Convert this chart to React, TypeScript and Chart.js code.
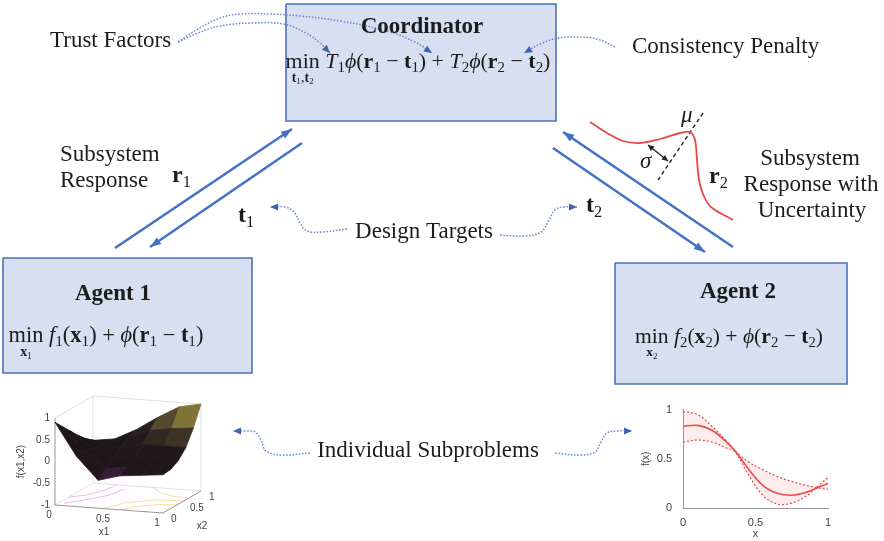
import React, { useEffect, useRef } from "react";
import { Chart, registerables } from "chart.js";

Chart.register(...registerables);

const W = 884;
const H = 541;
const SERIF = '"Liberation Serif", "DejaVu Serif", serif';
const SANS = '"Liberation Sans", "DejaVu Sans", sans-serif';

// ---------------- data ----------------
const boxTitles = ["Coordinator", "Agent 1", "Agent 2"];
const noteTexts = [
  "Trust Factors",
  "Consistency Penalty",
  "Subsystem",
  "Response",
  "Design Targets",
  "Subsystem",
  "Response with",
  "Uncertainty",
  "Individual Subproblems",
];

// boxes [left, top, right, bottom]
const coordinatorBox = [286, 4, 556, 121];
const agent1Box = [3, 258, 252, 373];
const agent2Box = [615, 263, 847, 384];

// solid exchange arrows [from, to]
const r1Arrow = [[115, 248], [292, 129]];
const t1Arrow = [[302, 143], [150, 247]];
const r2Arrow = [[733, 247], [563, 132]];
const t2Arrow = [[553, 148], [705, 252]];

// dotted annotation curves (end = arrow tip)
const trustCurve1 = [[178, 42], [198, 33], [220, 26], [253, 23], [283, 24], [306, 33], [320, 43], [330, 53]];
const trustCurve2 = [[178, 42], [198, 29], [220, 18], [240, 14], [270, 14], [300, 16], [340, 21], [387, 31], [415, 42], [432, 53]];
const penaltyCurve = [[615, 47], [597, 39], [577, 37], [558, 38], [540, 44], [524, 53]];
const targetsLeft = [[347, 229], [322, 232], [307, 231], [300, 223], [294, 212], [285, 207], [270, 207]];
const targetsRight = [[500, 235], [525, 236], [541, 232], [549, 220], [555, 210], [563, 207], [577, 207]];
const subLeft = [[310, 453], [282, 455], [266, 451], [261, 440], [255, 432], [246, 431], [233, 431]];
const subRight = [[555, 453], [580, 455], [595, 452], [601, 442], [607, 433], [617, 431], [632, 431]];

// uncertain response sketch
const r2Curve = [[590, 122], [607, 133], [623, 141], [640, 143], [660, 139], [680, 133], [690, 132], [695, 140], [697, 160], [699, 180], [703, 194], [711, 207], [733, 220]];
const muLine = [[703, 113], [658, 180]];
const sigmaArrow = [[648, 145], [668, 161]];

// 3D surface inset f(x1,x2)
const surfX1 = [0, 0.2, 0.4, 0.6, 0.8, 1];
const surfX2 = [0, 0.2, 0.4, 0.6, 0.8, 1];
const surfZ = [
  [0.9, 0.7, 0.5, 0.3, 0.12, -0.02],
  [0.15, 0.18, 0.15, 0.1, 0.06, 0.05],
  [-0.36, -0.2, -0.05, 0.1, 0.22, 0.3],
  [-0.22, -0.12, 0.0, 0.2, 0.42, 0.62],
  [-0.17, -0.1, 0.0, 0.2, 0.5, 0.9],
  [-0.12, -0.1, 0.0, 0.2, 0.55, 1.0],
];
const surfZTicks = [1, 0.5, 0, -0.5, -1];
const surfXTicks = [0, 0.5, 1];
const contoursPink = [
  [[0.05, 0.1], [0.18, 0.3], [0.3, 0.55], [0.35, 0.85]],
  [[0.0, 0.35], [0.12, 0.5], [0.2, 0.75], [0.22, 1.0]],
];
const contoursYellow = [
  [[0.45, 0.0], [0.55, 0.3], [0.75, 0.5], [1.0, 0.55]],
  [[0.62, 0.0], [0.7, 0.2], [0.85, 0.33], [1.0, 0.37]],
  [[0.55, 1.0], [0.7, 0.8], [0.85, 0.7], [1.0, 0.68]],
];

// 1D GP inset f(x)
const fxX = [0, 0.1, 0.2, 0.3, 0.36, 0.45, 0.55, 0.65, 0.75, 0.85, 0.95, 1];
const fxMean = [0.83, 0.84, 0.79, 0.67, 0.58, 0.4, 0.23, 0.15, 0.13, 0.16, 0.22, 0.25];
const fxBandA = [0.98, 0.95, 0.83, 0.68, 0.58, 0.47, 0.39, 0.32, 0.27, 0.23, 0.2, 0.19];
const fxBandB = [0.67, 0.69, 0.67, 0.61, 0.57, 0.34, 0.13, 0.04, 0.05, 0.12, 0.25, 0.31];
const fxTicks = [0, 0.5, 1];

// ---------------- formulas ----------------
type Seg = { t: string; st?: string; sub?: boolean; under?: Seg[] };
const B = "bold";
const I = "italic";
const coordFormula: Seg[] = [
  { t: "min", under: [{ t: "t", st: B }, { t: "1", sub: true }, { t: "," }, { t: "t", st: B }, { t: "2", sub: true }] },
  { t: " " }, { t: "T", st: I }, { t: "1", sub: true }, { t: "ϕ", st: I }, { t: "(" }, { t: "r", st: B }, { t: "1", sub: true },
  { t: " − " }, { t: "t", st: B }, { t: "1", sub: true }, { t: ")" }, { t: " + " },
  { t: "T", st: I }, { t: "2", sub: true }, { t: "ϕ", st: I }, { t: "(" }, { t: "r", st: B }, { t: "2", sub: true },
  { t: " − " }, { t: "t", st: B }, { t: "2", sub: true }, { t: ")" },
];
const agentFormula = (k: string): Seg[] => [
  { t: "min", under: [{ t: "x", st: B }, { t: k, sub: true }] },
  { t: " " }, { t: "f", st: I }, { t: k, sub: true }, { t: "(" }, { t: "x", st: B }, { t: k, sub: true }, { t: ")" },
  { t: " + " }, { t: "ϕ", st: I }, { t: "(" }, { t: "r", st: B }, { t: k, sub: true }, { t: " − " },
  { t: "t", st: B }, { t: k, sub: true }, { t: ")" },
];

function segFont(s: Seg, size: number) {
  const sz = s.sub ? size * 0.68 : size;
  return `${s.st || ""} ${sz}px ${SERIF}`.trim();
}
function richWidth(ctx: CanvasRenderingContext2D, segs: Seg[], size: number) {
  let w = 0;
  for (const s of segs) {
    ctx.font = segFont(s, size);
    w += ctx.measureText(s.t).width;
  }
  return w;
}
function drawRich(ctx: CanvasRenderingContext2D, segs: Seg[], x: number, base: number, size: number, align: string) {
  const w = richWidth(ctx, segs, size);
  let cx = align === "center" ? x - w / 2 : x;
  ctx.textAlign = "left";
  ctx.textBaseline = "alphabetic";
  for (const s of segs) {
    ctx.font = segFont(s, size);
    const sw = ctx.measureText(s.t).width;
    ctx.fillText(s.t, cx, s.sub ? base + size * 0.2 : base);
    if (s.under) drawRich(ctx, s.under, cx + sw / 2, base + size * 0.62, size * 0.62, "center");
    cx += sw;
  }
}
function drawRichFit(ctx: CanvasRenderingContext2D, segs: Seg[], cx: number, base: number, targetW: number) {
  const w = richWidth(ctx, segs, 22);
  drawRich(ctx, segs, cx, base, (22 * targetW) / w, "center");
}

// ---------------- colours ----------------
const INK = "#1c1c1c";
const BOX_FILL = "#D7DFF0";
const BOX_EDGE = "#4A70BE";
const ARROW = "#4472C4";
const DOT = "#6F8DCB";
const DOT_HEAD = "#3E63B2";
const RED = "#E8484A";

// ---------------- helpers ----------------
const toPts = (arr: number[][]) => arr.map(([x, y]) => ({ x, y }));
const rectPts = (b: number[]) => [[b[0], b[1]], [b[2], b[1]], [b[2], b[3]], [b[0], b[3]], [b[0], b[1]]];

function lineDs(arr: number[][], extra: any) {
  return {
    data: toPts(arr),
    showLine: true,
    pointRadius: 0,
    pointHoverRadius: 0,
    fill: false,
    tension: 0,
    borderCapStyle: "butt",
    ...extra,
  };
}

function head(ctx: CanvasRenderingContext2D, tip: any, from: any, len: number, wid: number, color: string) {
  const a = Math.atan2(tip.y - from.y, tip.x - from.x);
  const c = Math.cos(a), s = Math.sin(a);
  ctx.save();
  ctx.fillStyle = color;
  ctx.beginPath();
  ctx.moveTo(tip.x, tip.y);
  ctx.lineTo(tip.x - len * c + (wid / 2) * s, tip.y - len * s - (wid / 2) * c);
  ctx.lineTo(tip.x - len * c - (wid / 2) * s, tip.y - len * s + (wid / 2) * c);
  ctx.closePath();
  ctx.fill();
  ctx.restore();
}

const arrowPlugin = {
  id: "arrowheads",
  afterDatasetsDraw(chart: any) {
    const ctx = chart.ctx;
    chart.data.datasets.forEach((ds: any, i: number) => {
      if (!ds.headEnd && !ds.headStart) return;
      const pts = chart.getDatasetMeta(i).data;
      const n = pts.length;
      const [len, wid, col] = ds.headSpec;
      if (ds.headEnd) head(ctx, pts[n - 1], pts[n - 2], len, wid, col);
      if (ds.headStart) head(ctx, pts[0], pts[1], len, wid, col);
    });
  },
};

// 3D projection layout (pixel units of the main chart)
const S3 = { ox: 55, oy: 505, ax: 108, ay: 8, bx: 38, by: -22, cz: 43.5 };

const clamp01 = (v: number) => Math.max(0, Math.min(1, v));
function surfColor(z: number, x1: number, shade: number) {
  const base = [30, 22, 26];
  const purple = [112, 42, 118];
  const olive = [140, 128, 58];
  const wp = clamp01((-0.18 - z) / 0.18);
  const wo = clamp01((z - 0.2) / 0.7) * clamp01((x1 - 0.35) / 0.5);
  const c = base.map((b, k) => b + wp * (purple[k] - b) + wo * (olive[k] - b));
  return `rgb(${Math.round(c[0] * shade)},${Math.round(c[1] * shade)},${Math.round(c[2] * shade)})`;
}

const surfacePlugin = {
  id: "surface3d",
  afterDatasetsDraw(chart: any) {
    const { ctx } = chart;
    const xs = chart.scales.x, ys = chart.scales.y;
    const P = (a: number, b: number, z: number) => [
      xs.getPixelForValue(S3.ox + S3.ax * a + S3.bx * b),
      ys.getPixelForValue(S3.oy + S3.ay * a + S3.by * b - S3.cz * (z + 1)),
    ];
    const seg = (p: number[][], color: string, w: number) => {
      ctx.save();
      ctx.strokeStyle = color;
      ctx.lineWidth = w;
      ctx.beginPath();
      p.forEach((q, k) => (k ? ctx.lineTo(q[0], q[1]) : ctx.moveTo(q[0], q[1])));
      ctx.stroke();
      ctx.restore();
    };
    // back box lines
    const light = "#d8d8d8";
    seg([P(0, 1, -1), P(0, 1, 1)], light, 0.8);
    seg([P(1, 1, -1), P(1, 1, 1)], light, 0.8);
    seg([P(0, 0, 1), P(0, 1, 1), P(1, 1, 1)], light, 0.8);
    seg([P(0, 0, -1), P(0, 1, -1), P(1, 1, -1)], light, 0.8);
    // floor contours
    contoursPink.forEach((c) => seg(c.map(([a, b]) => P(a, b, -1)), "rgba(228,140,215,0.75)", 0.8));
    contoursYellow.forEach((c) => seg(c.map(([a, b]) => P(a, b, -1)), "rgba(232,205,120,0.8)", 0.8));
    // axes
    const axisC = "#8a8a8a";
    seg([P(0, 0, -1), P(0, 0, 1)], axisC, 0.9);
    seg([P(0, 0, -1), P(1, 0, -1)], axisC, 0.9);
    seg([P(1, 0, -1), P(1, 1, -1)], axisC, 0.9);
    // surface quads, far to near
    const quads: any[] = [];
    for (let i = 0; i < surfX1.length - 1; i++) {
      for (let j = 0; j < surfX2.length - 1; j++) {
        const z = (surfZ[i][j] + surfZ[i + 1][j] + surfZ[i + 1][j + 1] + surfZ[i][j + 1]) / 4;
        const x1c = (surfX1[i] + surfX1[i + 1]) / 2;
        const depth = (surfX2[j] + surfX2[j + 1]) / 2 + 0.12 * (1 - x1c);
        const dz2 = (surfZ[i][j + 1] + surfZ[i + 1][j + 1] - surfZ[i][j] - surfZ[i + 1][j]) / 2;
        const shade = Math.max(0.8, Math.min(1.12, 1 + dz2 * 0.5));
        quads.push({ i, j, z, x1c, depth, shade });
      }
    }
    quads.sort((a, b) => b.depth - a.depth);
    for (const q of quads) {
      const { i, j } = q;
      const c = [
        P(surfX1[i], surfX2[j], surfZ[i][j]),
        P(surfX1[i + 1], surfX2[j], surfZ[i + 1][j]),
        P(surfX1[i + 1], surfX2[j + 1], surfZ[i + 1][j + 1]),
        P(surfX1[i], surfX2[j + 1], surfZ[i][j + 1]),
      ];
      const col = surfColor(q.z, q.x1c, q.shade);
      ctx.save();
      ctx.fillStyle = col;
      ctx.strokeStyle = col;
      ctx.lineWidth = 0.8;
      ctx.lineJoin = "round";
      ctx.beginPath();
      c.forEach((p, k) => (k ? ctx.lineTo(p[0], p[1]) : ctx.moveTo(p[0], p[1])));
      ctx.closePath();
      ctx.fill();
      ctx.stroke();
      ctx.restore();
    }
    // tick labels
    ctx.save();
    ctx.fillStyle = "#444";
    ctx.font = `10px ${SANS}`;
    ctx.textBaseline = "middle";
    ctx.textAlign = "right";
    surfZTicks.forEach((z) => {
      const p = P(0, 0, z);
      ctx.fillText(String(z), p[0] - 5, p[1]);
    });
    ctx.textAlign = "center";
    surfXTicks.forEach((v) => {
      const p = P(v, 0, -1);
      ctx.fillText(String(v), p[0] - 6, p[1] + 10);
    });
    ctx.textAlign = "left";
    surfXTicks.forEach((v) => {
      const p = P(1, v, -1);
      ctx.fillText(String(v), p[0] + 8, p[1] + 6);
    });
    ctx.textAlign = "center";
    let p = P(0.5, 0, -1);
    ctx.fillText("x1", p[0] - 5, p[1] + 23);
    p = P(1, 0.5, -1);
    ctx.fillText("x2", p[0] + 20, p[1] + 24);
    p = P(0, 0, 0);
    ctx.translate(p[0] - 34, p[1]);
    ctx.rotate(-Math.PI / 2);
    ctx.fillText("f(x1,x2)", 0, 0);
    ctx.restore();
  },
};

const textPlugin = {
  id: "texts",
  afterDatasetsDraw(chart: any) {
    const { ctx } = chart;
    const xs = chart.scales.x, ys = chart.scales.y;
    const X = (v: number) => xs.getPixelForValue(v);
    const Y = (v: number) => ys.getPixelForValue(v);
    ctx.save();
    ctx.fillStyle = INK;
    ctx.textBaseline = "alphabetic";
    // box titles
    ctx.font = `bold 23px ${SERIF}`;
    ctx.textAlign = "center";
    ctx.fillText(boxTitles[0], X(422), Y(33));
    ctx.fillText(boxTitles[1], X(113), Y(300));
    ctx.fillText(boxTitles[2], X(738), Y(298));
    // formulas
    drawRichFit(ctx, coordFormula, X(418), Y(68), 265);
    drawRichFit(ctx, agentFormula("1"), X(106), Y(342), 195);
    drawRichFit(ctx, agentFormula("2"), X(729), Y(343), 188);
    // notes
    ctx.fillStyle = INK;
    ctx.font = `23px ${SERIF}`;
    const notePos: [number, number, string][] = [
      [50, 47, "left"],
      [632, 53, "left"],
      [60, 161, "left"],
      [60, 187, "left"],
      [424, 238, "center"],
      [810, 165, "center"],
      [811, 191, "center"],
      [812, 217, "center"],
      [428, 457, "center"],
    ];
    noteTexts.forEach((t, k) => {
      const [x, y, al] = notePos[k];
      ctx.textAlign = al;
      ctx.fillText(t, X(x), Y(y));
    });
    // symbols
    const sym = (ch: string, k: string, x: number, y: number) =>
      drawRich(ctx, [{ t: ch, st: B }, { t: k, sub: true }], X(x), Y(y), 24, "left");
    sym("r", "1", 172, 182);
    sym("t", "1", 238, 222);
    sym("t", "2", 586, 212);
    sym("r", "2", 709, 183);
    ctx.font = `italic 23px ${SERIF}`;
    ctx.textAlign = "left";
    ctx.fillText("μ", X(681), Y(122));
    ctx.fillText("σ", X(640), Y(168));
    ctx.restore();
  },
};

function mainConfig(): any {
  const dotted = { borderColor: DOT, borderWidth: 1.5, borderDash: [1.6, 1.6], tension: 0.4, headEnd: true, headSpec: [8, 7, DOT_HEAD] };
  const solid = { borderColor: ARROW, borderWidth: 2.6, headEnd: true, headSpec: [11, 8, ARROW] };
  const box = { borderColor: BOX_EDGE, borderWidth: 1.6, backgroundColor: BOX_FILL, fill: "shape", order: 10, borderJoinStyle: "miter" };
  return {
    type: "scatter",
    data: {
      datasets: [
        lineDs(trustCurve1, dotted),
        lineDs(trustCurve2, dotted),
        lineDs(penaltyCurve, dotted),
        lineDs(targetsLeft, dotted),
        lineDs(targetsRight, dotted),
        lineDs(subLeft, dotted),
        lineDs(subRight, dotted),
        lineDs(r1Arrow, solid),
        lineDs(t1Arrow, solid),
        lineDs(r2Arrow, solid),
        lineDs(t2Arrow, solid),
        lineDs(r2Curve, { borderColor: RED, borderWidth: 1.8, tension: 0.35 }),
        lineDs(muLine, { borderColor: "#222", borderWidth: 1.4, borderDash: [4, 3] }),
        lineDs(sigmaArrow, { borderColor: "#222", borderWidth: 1.5, headEnd: true, headStart: true, headSpec: [6, 6, "#222"] }),
        lineDs(rectPts(coordinatorBox), box),
        lineDs(rectPts(agent1Box), box),
        lineDs(rectPts(agent2Box), box),
      ],
    },
    options: {
      animation: false,
      responsive: false,
      maintainAspectRatio: false,
      devicePixelRatio: 1,
      events: [],
      layout: { padding: 0 },
      plugins: { legend: { display: false }, tooltip: { enabled: false } },
      scales: {
        x: { type: "linear", min: 0, max: W, display: false },
        y: { type: "linear", min: 0, max: H, reverse: true, display: false },
      },
    },
    plugins: [surfacePlugin, arrowPlugin, textPlugin],
  };
}

function insetConfig(): any {
  const mk = (ys: number[]) => fxX.map((x, i) => ({ x, y: ys[i] }));
  const tickFont = { size: 11, family: SANS };
  const fmt = (v: any) => String(Number(v));
  return {
    type: "scatter",
    data: {
      datasets: [
        { data: mk(fxBandA), showLine: true, pointRadius: 0, borderColor: RED, borderWidth: 1.2, borderDash: [2, 2], tension: 0.35, fill: false },
        { data: mk(fxBandB), showLine: true, pointRadius: 0, borderColor: RED, borderWidth: 1.2, borderDash: [2, 2], tension: 0.35, fill: "-1", backgroundColor: "rgba(240,110,110,0.13)" },
        { data: mk(fxMean), showLine: true, pointRadius: 0, borderColor: RED, borderWidth: 1.6, tension: 0.35, fill: false },
      ],
    },
    options: {
      animation: false,
      responsive: false,
      maintainAspectRatio: false,
      devicePixelRatio: 1,
      events: [],
      layout: { padding: { top: 8, right: 12, left: 0, bottom: 0 } },
      plugins: { legend: { display: false }, tooltip: { enabled: false } },
      scales: {
        x: {
          type: "linear", min: 0, max: 1,
          afterBuildTicks: (s: any) => { s.ticks = fxTicks.map((v) => ({ value: v })); },
          ticks: { font: tickFont, color: "#444", padding: 0, maxRotation: 0, callback: fmt },
          grid: { display: false },
          border: { display: true, color: "#999" },
          title: { display: true, text: "x", font: tickFont, color: "#444", padding: { top: 0, bottom: 0 } },
          afterFit: (s: any) => { s.height = 33; },
        },
        y: {
          type: "linear", min: 0, max: 1,
          afterBuildTicks: (s: any) => { s.ticks = fxTicks.map((v) => ({ value: v })); },
          ticks: { font: tickFont, color: "#444", padding: 3, callback: fmt },
          grid: { display: false },
          border: { display: true, color: "#999" },
          title: { display: true, text: "f(x)", font: { size: 10, family: SANS }, color: "#444", padding: 0 },
          afterFit: (s: any) => { s.width = 43; },
        },
      },
    },
  };
}

export default function App() {
  const mainRef = useRef<HTMLCanvasElement>(null);
  const insetRef = useRef<HTMLCanvasElement>(null);
  useEffect(() => {
    const main = new Chart(mainRef.current as HTMLCanvasElement, mainConfig());
    const inset = new Chart(insetRef.current as HTMLCanvasElement, insetConfig());
    return () => {
      main.destroy();
      inset.destroy();
    };
  }, []);
  return (
    <div style={{ position: "absolute", left: 0, top: 0, width: W, height: H, background: "#fff" }}>
      <canvas ref={mainRef} width={W} height={H} style={{ position: "absolute", left: 0, top: 0, width: W, height: H }} />
      <canvas ref={insetRef} width={200} height={141} style={{ position: "absolute", left: 640, top: 400, width: 200, height: 141 }} />
    </div>
  );
}
